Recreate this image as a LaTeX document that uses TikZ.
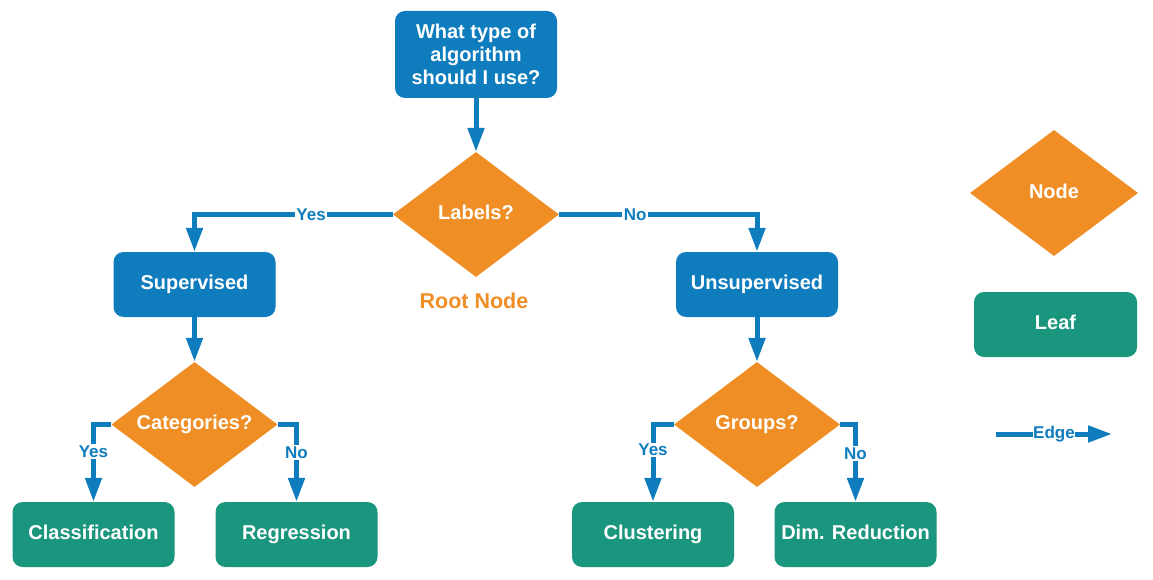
\documentclass[tikz,border=0pt]{standalone}
\usepackage{fontspec}
\setmainfont{Liberation Sans}
\usetikzlibrary{shapes.geometric,arrows.meta}
\definecolor{myblue}{HTML}{0F7DBD}
\definecolor{myorange}{HTML}{F08E26}
\definecolor{myteal}{HTML}{1B967E}
\tikzset{
  boxbase/.style={rectangle, rounded corners=10pt, minimum width=162pt, minimum height=65pt,
    text=white, font=\bfseries\fontsize{20}{23}\selectfont, align=center, inner sep=0pt},
  oneline/.style={text height=14.5pt, text depth=4pt},
  qbox/.style={boxbase, fill=myblue},
  leafbox/.style={boxbase, oneline, fill=myteal},
  decision/.style={diamond, aspect=1.33, fill=myorange, minimum width=166pt, minimum height=125pt, inner sep=0pt,
    text=white, font=\bfseries\fontsize{20}{23}\selectfont, oneline},
  conn/.style={draw=myblue, line width=5pt, -{Triangle[length=24pt,width=16pt]}},
  elabel/.style={fill=white, text=myblue, font=\bfseries\fontsize{17}{19}\selectfont, inner sep=1.5pt}
}
\begin{document}
\begin{tikzpicture}[x=1pt,y=-1pt]
\useasboundingbox (0,0) rectangle (1153,580);
\fill[white] (0,0) rectangle (1153,580);

\node[qbox, minimum height=87pt] (top) at (476,54.5) {What type of\\algorithm\\should I use?};
\node[decision] (lab) at (476,214.5) {Labels?};
\node[text=myorange, font=\bfseries\fontsize{21.5}{24}\selectfont] (root) at (474,301) {Root Node};

\node[qbox, oneline] (sup) at (194.5,284.5) {Supervised};
\node[qbox, oneline] (uns) at (757,284.5) {Unsupervised};

\node[decision] (cat) at (194.5,424.5) {Categories?};
\node[decision] (grp) at (757,424.5) {Groups?};

\node[leafbox] (cls) at (93.5,534.5) {Classification};
\node[leafbox] (reg) at (296.5,534.5) {Regression};
\node[leafbox] (clu) at (653,534.5) {Clustering};
\node[leafbox] (dim) at (855.5,534.5) {Dim. Reduction};

% legend
\node[decision, minimum width=168pt, minimum height=126pt] (lnode) at (1054,193) {Node};
\node[leafbox, minimum width=163pt] (lleaf) at (1055.5,324.5) {Leaf};
\coordinate (e1) at (996,434);
\coordinate (e2) at (1112,434);

% connectors
\draw[conn] (top.south) -- (lab.north);
\draw[conn] (lab.west) -| node[elabel, pos=0.206] {Yes} (sup.north);
\draw[conn] (lab.east) -| node[elabel, pos=0.192] {No} (uns.north);
\draw[conn] (sup.south) -- (cat.north);
\draw[conn] (uns.south) -- (grp.north);
\draw[conn] (cat.west) -| node[elabel, pos=0.675] {Yes} (cls.north);
\draw[conn] (cat.east) -| node[elabel, pos=0.68] {No} (reg.north);
\draw[conn] (grp.west) -| node[elabel, pos=0.665] {Yes} (clu.north);
\draw[conn] (grp.east) -| node[elabel, pos=0.69] {No} (dim.north);
\draw[conn] (e1) -- node[elabel, inner sep=0.5pt] {Edge} (e2);
\end{tikzpicture}
\end{document}
